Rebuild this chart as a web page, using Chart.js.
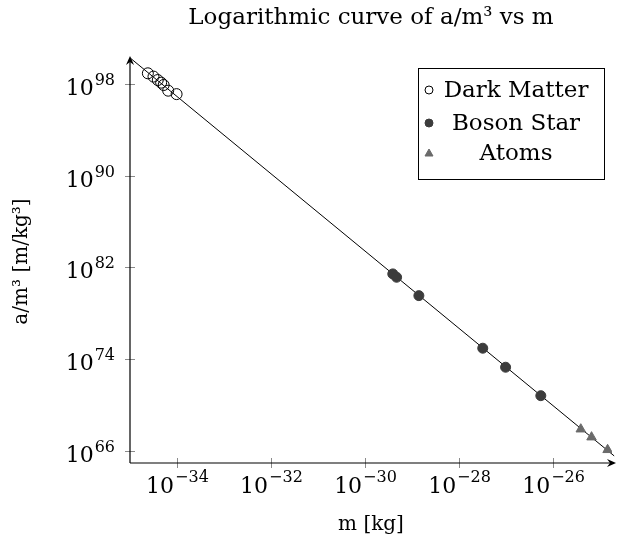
<!DOCTYPE html>
<html>
<head>
<meta charset="utf-8">
<script src="https://cdn.jsdelivr.net/npm/chart.js@4/dist/chart.umd.min.js"></script>
<style>
  body { margin: 0; background: #fff; }
</style>
</head>
<body>
<canvas id="c" width="630" height="544"></canvas>
<script>
// values (m in kg, a/m^3 in m/kg^3)
const darkX = [2.4e-35, 3.16e-35, 3.9e-35, 4.6e-35, 5.2e-35, 6.5e-35, 9.8e-35];
const darkY = [8.5e98, 4.4e98, 2.2e98, 1.3e98, 8.1e97, 2.6e97, 1.3e97];
const bosonX = [3.9e-30, 4.7e-30, 1.4e-29, 3.2e-28, 9.8e-28, 5.5e-27];
const bosonY = [2.75e81, 1.4e81, 3.5e79, 9.1e74, 2.0e73, 6.6e70];
const atomX = [3.9e-26, 6.6e-26, 1.45e-25];
const atomY = [7.9e67, 1.6e67, 1.26e66];
const fitX = [1e-35, 2e-25];
const fitY = [1.9e100, 3.7e65];

const xTicks = [1e-34, 1e-32, 1e-30, 1e-28, 1e-26];
const xTickExp = ['\u221234', '\u221232', '\u221230', '\u221228', '\u221226'];
const yTicks = [1e66, 1e74, 1e82, 1e90, 1e98];
const yTickExp = ['66', '74', '82', '90', '98'];

const FONT = "'DejaVu Serif', serif";

function pts(xs, ys) {
  return xs.map((x, i) => ({x: x, y: ys[i]}));
}

// axis lines with arrows, crossing tick marks and 10^n labels
const axesPlugin = {
  id: 'axes',
  beforeDatasetsDraw(chart) {
    const ctx = chart.ctx;
    const a = chart.chartArea;
    const xs = chart.scales.x, ys = chart.scales.y;
    ctx.save();
    // tick marks
    ctx.strokeStyle = '#8a8a8a';
    ctx.lineWidth = 1;
    xTicks.forEach(v => {
      const px = Math.round(xs.getPixelForValue(v)) + 0.5;
      ctx.beginPath();
      ctx.moveTo(px, a.bottom - 5);
      ctx.lineTo(px, a.bottom + 5);
      ctx.stroke();
    });
    yTicks.forEach(v => {
      const py = Math.round(ys.getPixelForValue(v)) + 0.5;
      ctx.beginPath();
      ctx.moveTo(a.left - 5, py);
      ctx.lineTo(a.left + 5, py);
      ctx.stroke();
    });
    // axes
    ctx.strokeStyle = '#000';
    ctx.fillStyle = '#000';
    ctx.lineWidth = 1.2;
    ctx.beginPath();
    ctx.moveTo(a.left, a.bottom);
    ctx.lineTo(a.left, a.top - 2);
    ctx.moveTo(a.left, a.bottom);
    ctx.lineTo(a.right + 2, a.bottom);
    ctx.stroke();
    // arrow heads
    ctx.beginPath();
    ctx.moveTo(a.left, a.top - 4);
    ctx.lineTo(a.left - 4, a.top + 5);
    ctx.lineTo(a.left, a.top + 2);
    ctx.lineTo(a.left + 4, a.top + 5);
    ctx.closePath();
    ctx.fill();
    ctx.beginPath();
    ctx.moveTo(a.right + 4, a.bottom);
    ctx.lineTo(a.right - 5, a.bottom - 4);
    ctx.lineTo(a.right - 2, a.bottom);
    ctx.lineTo(a.right - 5, a.bottom + 4);
    ctx.closePath();
    ctx.fill();
    // labels
    ctx.fillStyle = '#000';
    ctx.textBaseline = 'alphabetic';
    const big = '22px ' + FONT, small = '16px ' + FONT;
    xTicks.forEach((v, i) => {
      const px = xs.getPixelForValue(v);
      ctx.font = big;
      const w1 = ctx.measureText('10').width;
      ctx.font = small;
      const w2 = ctx.measureText(xTickExp[i]).width;
      const x0 = px - (w1 + w2) / 2;
      ctx.textAlign = 'left';
      ctx.font = big;
      ctx.fillText('10', x0, a.bottom + 30);
      ctx.font = small;
      ctx.fillText(xTickExp[i], x0 + w1 + 1, a.bottom + 19);
    });
    yTicks.forEach((v, i) => {
      const py = ys.getPixelForValue(v);
      ctx.font = small;
      const w2 = ctx.measureText(yTickExp[i]).width;
      const xr = a.left - 15;
      ctx.textAlign = 'left';
      ctx.fillText(yTickExp[i], xr - w2, py + 1);
      ctx.font = big;
      ctx.textAlign = 'right';
      ctx.fillText('10', xr - w2 - 1, py + 11);
    });
    ctx.restore();
  }
};

// legend box in the upper right of the plot
const legendPlugin = {
  id: 'boxLegend',
  afterDraw(chart) {
    const ctx = chart.ctx;
    const bx = 418, by = 68, bw = 186, bh = 111;
    const rows = [90, 123, 153];
    ctx.save();
    ctx.fillStyle = '#fff';
    ctx.fillRect(bx, by, bw, bh);
    ctx.strokeStyle = '#000';
    ctx.lineWidth = 1;
    ctx.strokeRect(bx + 0.5, by + 0.5, bw, bh);
    chart.data.datasets.slice(0, 3).forEach((ds, i) => {
      const y = rows[i], x = 429;
      ctx.lineWidth = 1;
      ctx.strokeStyle = ds.borderColor;
      ctx.fillStyle = ds.backgroundColor;
      ctx.beginPath();
      if (ds.pointStyle === 'triangle') {
        ctx.moveTo(x, y - 4);
        ctx.lineTo(x + 4, y + 3);
        ctx.lineTo(x - 4, y + 3);
        ctx.closePath();
      } else {
        ctx.arc(x, y, 4, 0, Math.PI * 2);
      }
      ctx.fill();
      ctx.stroke();
      ctx.fillStyle = '#000';
      ctx.font = '23px ' + FONT;
      ctx.textAlign = 'center';
      ctx.textBaseline = 'middle';
      ctx.fillText(ds.label, 516, y + 1);
    });
    ctx.restore();
  }
};

new Chart(document.getElementById('c'), {
  type: 'scatter',
  data: {
    datasets: [{
      label: 'Dark Matter',
      data: pts(darkX, darkY),
      pointStyle: 'circle',
      pointRadius: 5.5,
      borderWidth: 1,
      borderColor: '#000',
      backgroundColor: 'rgba(0,0,0,0)'
    }, {
      label: 'Boson Star',
      data: pts(bosonX, bosonY),
      pointStyle: 'circle',
      pointRadius: 5,
      borderWidth: 1,
      borderColor: '#3c3c3c',
      backgroundColor: '#3c3c3c'
    }, {
      label: 'Atoms',
      data: pts(atomX, atomY),
      pointStyle: 'triangle',
      pointRadius: 5.5,
      borderWidth: 1,
      borderColor: '#6a6a6a',
      backgroundColor: '#6a6a6a'
    }, {
      label: 'fit',
      data: pts(fitX, fitY),
      showLine: true,
      pointRadius: 0,
      borderWidth: 1,
      borderColor: '#000',
      clip: false,
      order: 5
    }]
  },
  options: {
    responsive: false,
    animation: false,
    layout: { padding: { left: 0, right: 18, top: 0, bottom: 0 } },
    plugins: {
      legend: { display: false },
      tooltip: { enabled: false },
      title: {
        display: true,
        fullSize: false,
        text: 'Logarithmic curve of a/m\u00b3 vs m',
        color: '#000',
        font: { family: FONT, size: 23, weight: 'normal' },
        padding: { top: 4, bottom: 28.4 }
      }
    },
    scales: {
      x: {
        type: 'logarithmic',
        min: Math.pow(10, -35),
        max: Math.pow(10, -24.745),
        grid: { display: false },
        border: { display: false },
        ticks: { display: false },
        title: {
          display: true,
          text: 'm [kg]',
          color: '#000',
          font: { family: FONT, size: 20 },
          padding: { top: 0, bottom: 7 }
        },
        afterFit(s) { s.height = 81; }
      },
      y: {
        type: 'logarithmic',
        min: Math.pow(10, 64.95),
        max: Math.pow(10, 100.09),
        grid: { display: false },
        border: { display: false },
        ticks: { display: false },
        title: {
          display: true,
          text: 'a/m\u00b3 [m/kg\u00b3]',
          color: '#000',
          font: { family: FONT, size: 20 },
          padding: { top: 10, bottom: 0 }
        },
        afterFit(s) { s.width = 130; }
      }
    }
  },
  plugins: [axesPlugin, legendPlugin]
});
</script>
</body>
</html>
